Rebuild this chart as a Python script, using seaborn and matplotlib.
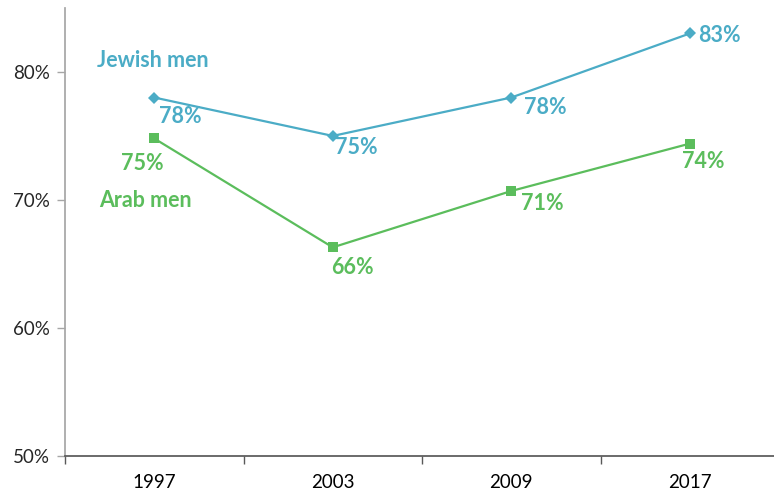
import pandas as pd
import seaborn as sns
import matplotlib.pyplot as plt
from matplotlib.ticker import FixedLocator

sns.set_theme(style="white")
plt.rcParams['font.family'] = ['Lato', 'DejaVu Sans']

years = ['1997', '2003', '2009', '2017']
jewish = [78.0, 75.0, 78.0, 83.0]
arab = [74.8, 66.3, 70.7, 74.4]
jewish_labels = ['78%', '75%', '78%', '83%']
arab_labels = ['75%', '66%', '71%', '74%']

BLUE = '#4BACC6'
GREEN = '#5BBD5C'

df = pd.DataFrame({
    'year': years * 2,
    'value': jewish + arab,
    'group': ['Jewish men'] * 4 + ['Arab men'] * 4,
})

fig = plt.figure(figsize=(7.74, 4.92), dpi=100)
ax = fig.add_axes([0.084, 0.073, 0.9225, 0.911])

sns.lineplot(data=df, x='year', y='value', hue='group', style='group',
             palette={'Jewish men': BLUE, 'Arab men': GREEN},
             markers={'Jewish men': 'D', 'Arab men': 's'}, dashes=False,
             markersize=6.5, markeredgewidth=0, linewidth=1.6, sort=False,
             legend=False, ax=ax)

ax.set_xlim(-0.5, 3.5)
ax.set_ylim(50, 85)
ax.set_yticks([50, 60, 70, 80])
ax.set_yticklabels(['50%', '60%', '70%', '80%'])
ax.set_xlabel('')
ax.set_ylabel('')

ax.xaxis.set_minor_locator(FixedLocator([-0.5, 0.5, 1.5, 2.5]))
ax.tick_params(axis='x', which='major', length=0, pad=13, labelsize=13.5, colors='black')
ax.tick_params(axis='x', which='minor', length=6, width=1, color='#595959', bottom=True)
ax.tick_params(axis='y', length=6, width=1, color='#A6A6A6', labelsize=13.5, left=True, pad=5)

sns.despine(ax=ax)
ax.spines['left'].set_color('#A6A6A6')
ax.spines['bottom'].set_color('#595959')

# data labels, offsets in pixels
j_off = [(26, -19), (24, -12), (34, -10), (30, -2)]
a_off = [(-12, -25), (20, -20), (31, -13), (13, -18)]
for i, lab in enumerate(jewish_labels):
    ax.annotate(lab, (i, jewish[i]), xytext=j_off[i], textcoords='offset pixels',
                ha='center', va='center', color=BLUE, fontsize=15.5, fontweight='bold')
for i, lab in enumerate(arab_labels):
    ax.annotate(lab, (i, arab[i]), xytext=a_off[i], textcoords='offset pixels',
                ha='center', va='center', color=GREEN, fontsize=15.5, fontweight='bold')

ax.text(-0.32, 80.86, 'Jewish men', color=BLUE, fontsize=15.5, fontweight='bold',
        ha='left', va='center')
ax.text(-0.31, 69.95, 'Arab men', color=GREEN, fontsize=15.5, fontweight='bold',
        ha='left', va='center')

fig.savefig('out.png', dpi=100)
